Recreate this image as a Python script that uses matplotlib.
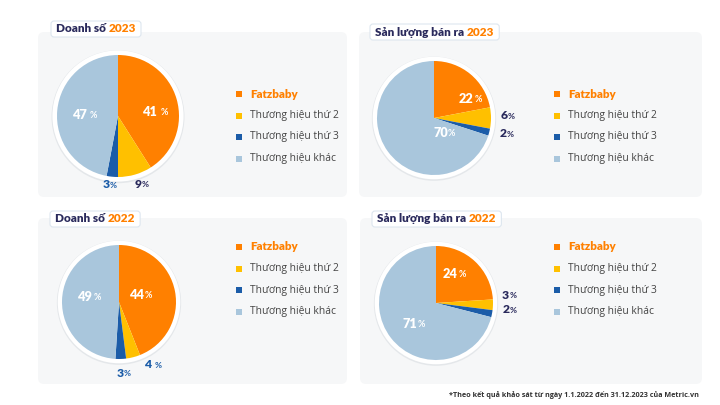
import matplotlib
matplotlib.use("Agg")
import matplotlib.pyplot as plt
from matplotlib.patches import FancyBboxPatch, Circle
import numpy as np

W, H = 720, 405
plt.rcParams['font.family'] = ['Open Sans', 'DejaVu Sans']

# ---- data ----
categories = ["Fatzbaby", "Thương hiệu thứ 2", "Thương hiệu thứ 3", "Thương hiệu khác"]
doanh_so_2023 = [41, 9, 3, 47]
san_luong_2023 = [22, 6, 2, 70]
doanh_so_2022 = [44, 4, 3, 49]
san_luong_2022 = [24, 3, 2, 71]
titles = [("Doanh số ", "2023"), ("Sản lượng bán ra ", "2023"),
          ("Doanh số ", "2022"), ("Sản lượng bán ra ", "2022")]
footnote = "*Theo kết quả khảo sát từ ngày 1.1.2022 đến 31.12.2023 của Metric.vn"

# ---- style ----
colors = ["#FF8000", "#FFC000", "#1B5CA8", "#A9C6DC"]
NAVY = "#2A2A5C"
ORANGE = "#FF8000"
PANEL_BG = "#F6F7F8"
NUMFONT = ["Lato", "DejaVu Sans"]

# panel boxes in px: (x0, y0, x1, y1)
panels = [(38, 32, 347, 197), (359, 32, 702, 197),
          (38, 218, 347, 384), (360, 218, 702, 384)]
badges = [(51, 21), (370, 24), (50, 211), (372, 211)]  # left, top
pie_centers = [(118, 116, 61), (434, 118, 57), (119, 302, 57), (436, 303, 57)]
legend_pos = [(239, 94), (557, 94), (239, 247), (557, 247)]
legend_step = 21.5
# label positions (angle deg, radius fraction, color)
label_style = [
    [(6, 0.66, "white"), (-71, 1.18, NAVY), (-97, 1.13, "#1B5CA8"), (178, 0.5, "white")],
    [(26, 0.76, "white"), (2, 1.29, NAVY), (-12, 1.31, NAVY), (-47, 0.36, "white")],
    [(15, 0.47, "white"), (-62, 1.25, "#1B5CA8"), (-86, 1.25, "#1B5CA8"), (169, 0.46, "white")],
    [(54, 0.63, "white"), (6, 1.29, NAVY), (-5, 1.3, NAVY), (229, 0.49, "white")],
]
pct_space = [[True, False, False, True], [True, False, False, False],
             [False, True, False, False], [True, False, False, False]]

fig = plt.figure(figsize=(W / 100, H / 100), dpi=100)
fig.patch.set_facecolor("white")


def fx(x):
    return x / W


def fy(y):
    return 1 - y / H


bg = fig.add_axes([0, 0, 1, 1])
bg.set_xlim(0, W)
bg.set_ylim(H, 0)
bg.axis("off")

for (x0, y0, x1, y1) in panels:
    bg.add_patch(FancyBboxPatch((x0, y0), x1 - x0, y1 - y0,
                                boxstyle="round,pad=0,rounding_size=6",
                                fc=PANEL_BG, ec="none", zorder=0))

renderer = fig.canvas.get_renderer()
for (t1, t2), (bx, by) in zip(titles, badges):
    ty = by + 8
    a = bg.text(bx + 5, ty, t1, fontsize=8.5, fontweight="heavy", color=NAVY,
                va="center", ha="left", zorder=3, family=NUMFONT)
    ext = a.get_window_extent(renderer)
    x_after = bx + 5 + ext.width
    b = bg.text(x_after, ty, t2, fontsize=8.5, fontweight="heavy", color=ORANGE,
                va="center", ha="left", zorder=3, family=NUMFONT)
    ext2 = b.get_window_extent(renderer)
    bw = ext.width + ext2.width + 10
    bg.add_patch(FancyBboxPatch((bx, by), bw, 16,
                                boxstyle="round,pad=0,rounding_size=3",
                                fc="white", ec="#DDE6EF", lw=0.8, zorder=2))

datasets = [doanh_so_2023, san_luong_2023, doanh_so_2022, san_luong_2022]
for i, data in enumerate(datasets):
    cx, cy, r = pie_centers[i]
    L = 1.12
    R = r * L
    ax = fig.add_axes([fx(cx - R), fy(cy + R), 2 * R / W, 2 * R / H])
    ax.add_patch(Circle((0, -0.012), 1.09, fc="#E4E7EA", ec="none", zorder=0))
    ax.add_patch(Circle((0, 0), 1.075, fc="white", ec="none", zorder=1))
    wedges, _ = ax.pie(data, colors=colors, startangle=90, counterclock=False,
                       radius=1.0, wedgeprops=dict(linewidth=0))
    for w in wedges:
        w.set_zorder(2)
    ax.set_xlim(-L, L)
    ax.set_ylim(-L, L)
    ax.set_aspect("equal")
    ax.axis("off")
    for j, v in enumerate(data):
        ang, rf, col = label_style[i][j]
        x = rf * np.cos(np.radians(ang))
        y = rf * np.sin(np.radians(ang))
        big = 9.2 if col == "white" else 8.7
        ax.text(x, y, f"{v}", fontsize=big, fontweight="heavy", color=col,
                ha="right", va="center", zorder=5, family=NUMFONT)
        gap = 0.035 if pct_space[i][j] else 0.0
        ax.text(x + gap, y - 0.01, "%", fontsize=big * 0.7, fontweight="bold",
                color=col, ha="left", va="center", zorder=5, family=NUMFONT)

    lx, ly = legend_pos[i]
    for j, name in enumerate(categories):
        yy = ly + j * legend_step
        bg.scatter([lx], [yy], marker="s", s=22, color=colors[j], zorder=3, linewidths=0)
        if j == 0:
            bg.text(lx + 11, yy, name, fontsize=8.3, fontweight="heavy", color=ORANGE,
                    va="center", ha="left", zorder=3, family=NUMFONT)
        else:
            bg.text(lx + 11, yy, name, fontsize=7.4, color="#444444",
                    va="center", ha="left", zorder=3)

bg.text(699, 395, footnote, fontsize=5.2, fontweight="bold", color="#333333",
        ha="right", va="center")

fig.savefig("out.png", dpi=100, facecolor="white")
